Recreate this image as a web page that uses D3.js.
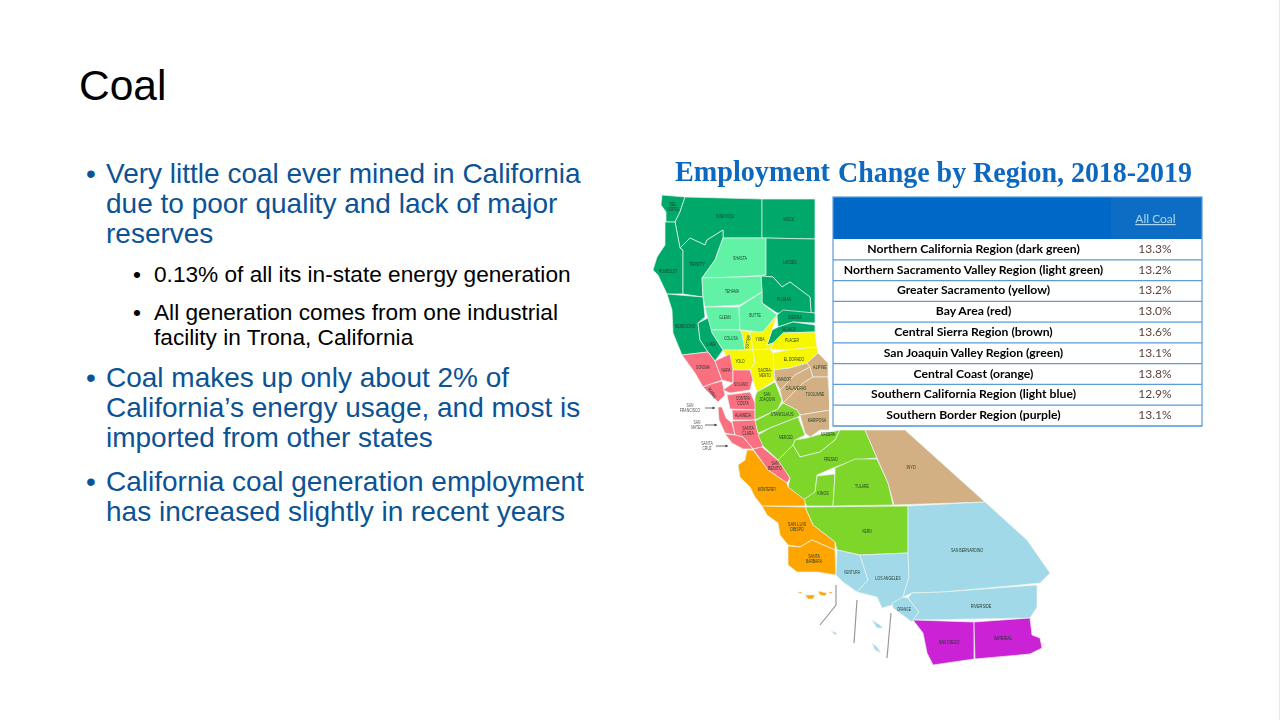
<!DOCTYPE html>
<html>
<head>
<meta charset="utf-8">
<script src="https://cdnjs.cloudflare.com/ajax/libs/d3/7.8.5/d3.min.js"></script>
<style>
html, body { margin: 0; padding: 0; background: #fff; overflow: hidden; }
svg { display: block; }
</style>
</head>
<body>
<script>
// table data
var regions = ["Northern California Region (dark green)", "Northern Sacramento Valley Region (light green)",
  "Greater Sacramento (yellow)", "Bay Area (red)", "Central Sierra Region (brown)", "San Joaquin Valley Region (green)",
  "Central Coast (orange)", "Southern California Region (light blue)", "Southern Border Region (purple)"];
var coalChange = [13.3, 13.2, 13.2, 13.0, 13.6, 13.1, 13.8, 12.9, 13.1];
var regionColors = ["#00a96b", "#62f2a6", "#f7f700", "#fb6f80", "#d2b084", "#7ed62b", "#ffa502", "#a2d9e8", "#cc20d6"];

// slide text
var titleText = "Coal";
var bigBullets = [
  ["Very little coal ever mined in California", "due to poor quality and lack of major", "reserves"],
  ["Coal makes up only about 2% of", "California\u2019s energy usage, and most is", "imported from other states"],
  ["California coal generation employment", "has increased slightly in recent years"]
];
var smallBullets = [
  ["0.13% of all its in-state energy generation"],
  ["All generation comes from one industrial", "facility in Trona, California"]
];

// county outlines: [name lines, region index, label point, outline, label angle]
var counties = [
  [["DEL", "NORTE"], 0, [673, 207], [[662,195],[685,197],[680,212],[675,222],[666,222],[666,212],[661,205]]],
  [["SISKIYOU"], 0, [725, 216], [[685,197],[762,199],[762,238],[723,238],[723,230],[715,235],[707,240],[705,245],[690,238],[680,248],[675,222],[680,212]]],
  [["MODOC"], 0, [789, 219], [[762,199],[815,199],[815,239],[762,238]]],
  [["HUMBOLDT"], 0, [668, 271], [[675,222],[680,248],[683,250],[683,294],[667,294],[658,275],[653,270],[657,257],[665,245],[665,222]]],
  [["TRINITY"], 0, [697, 264], [[680,248],[690,238],[705,245],[707,240],[715,235],[723,230],[723,238],[715,260],[702,278],[703,297],[683,294],[683,250]]],
  [["SHASTA"], 1, [740, 258], [[723,238],[766,238],[766,275],[740,277],[702,278],[715,260]]],
  [["LASSEN"], 0, [790, 262], [[766,238],[815,239],[815,313],[811,313],[810,297],[790,282],[782,287],[773,277],[761,276],[766,275]]],
  [["PLUMAS"], 0, [784, 299], [[761,276],[773,277],[782,287],[790,282],[810,297],[811,313],[777,313],[762,303],[762,292]]],
  [["TEHAMA"], 1, [732, 291], [[702,278],[740,277],[761,276],[762,292],[740,305],[705,307],[703,297]]],
  [["GLENN"], 1, [725, 317], [[705,307],[739,307],[740,330],[710,330]]],
  [["BUTTE"], 1, [755, 315], [[739,307],[762,292],[762,303],[777,315],[763,332],[740,330]]],
  [["COLUSA"], 1, [731, 338], [[710,330],[740,330],[742,333],[745,350],[723,350]]],
  [["MENDOCINO"], 0, [685, 326], [[667,294],[703,297],[705,317],[698,323],[700,340],[708,352],[682,355],[673,333],[672,310]]],
  [["LAKE"], 0, [711, 344], [[698,323],[708,318],[712,333],[723,350],[715,361],[708,352],[700,340]]],
  [["SIERRA"], 0, [795, 317], [[777,315],[783,310],[815,313],[815,323],[793,322],[778,327]]],
  [["NEVADA"], 0, [789, 329], [[767,345],[772,330],[778,327],[793,322],[815,325],[815,332],[783,333],[773,343]]],
  [["SUTTER"], 2, [748, 342], [[740,330],[750,332],[753,350],[745,350],[742,333]], -80],
  [["YUBA"], 2, [760, 339], [[750,332],[763,332],[777,315],[767,345],[773,343],[770,349],[753,350]]],
  [["PLACER"], 2, [792, 340], [[773,343],[783,333],[815,332],[817,347],[787,350],[770,349]]],
  [["YOLO"], 2, [740, 361], [[723,350],[753,350],[755,363],[750,370],[733,370]]],
  [["EL DORADO"], 2, [794, 359], [[773,363],[773,353],[787,350],[817,347],[818,353],[807,363],[790,368],[774,370]]],
  [["SACRA-", "MENTO"], 2, [765, 373], [[753,350],[770,349],[773,353],[774,370],[775,380],[757,392],[753,380],[750,370],[755,363]]],
  [["SONOMA"], 3, [703, 367], [[682,355],[708,352],[715,361],[722,380],[711,384],[703,387],[695,373]]],
  [["MARIN"], 3, [712, 393], [[703,387],[711,384],[722,381],[725,395],[718,402]], 60],
  [["NAPA"], 3, [726, 370], [[715,361],[730,354],[733,370],[733,383],[722,380]]],
  [["SOLANO"], 3, [741, 384], [[733,370],[750,370],[753,380],[752,382],[750,390],[730,393],[723,390],[733,383]]],
  [["CONTRA", "COSTA"], 3, [743, 401], [[727,395],[750,392],[757,407],[755,410],[730,409]]],
  [["ALAMEDA"], 3, [743, 415], [[732,410],[755,410],[755,420],[733,420]]],
  [[""], 3, [0, 0], [[718,407],[722,407],[726,418],[732,423],[735,435],[725,433],[719,420]]],
  [["SANTA", "CLARA"], 3, [748, 431], [[732,421],[755,420],[758,433],[767,440],[762,447],[753,449],[743,437],[735,435]]],
  [[""], 3, [0, 0], [[725,434],[735,435],[743,437],[753,449],[743,449],[732,443]]],
  [["SAN", "BENITO"], 3, [775, 466], [[753,449],[762,447],[780,462],[790,478],[787,483],[768,470]]],
  [["SAN", "JOAQUIN"], 5, [767, 397], [[757,392],[775,382],[782,400],[778,409],[755,420],[755,407],[755,397]]],
  [["AMADOR"], 4, [784, 379], [[774,370],[790,368],[807,363],[810,367],[795,375],[780,390],[775,380]]],
  [["CALAVERAS"], 4, [796, 388], [[780,390],[795,375],[810,367],[813,377],[803,383],[783,403]]],
  [["ALPINE"], 4, [820, 367], [[807,363],[818,353],[828,363],[828,377],[813,377],[810,367]]],
  [["TUOLUMNE"], 4, [815, 394], [[783,403],[803,383],[813,377],[828,377],[830,410],[800,415],[797,410]]],
  [["MARIPOSA"], 4, [817, 420], [[800,415],[830,410],[833,430],[820,430],[810,437],[805,433]]],
  [["STANISLAUS"], 5, [782, 414], [[755,421],[778,409],[783,403],[797,410],[800,415],[798,417],[770,428],[758,433]]],
  [["MERCED"], 5, [786, 437], [[758,435],[770,428],[798,417],[805,435],[795,440],[793,445],[778,460],[763,446]]],
  [["MADERA"], 5, [828, 434], [[793,445],[795,440],[807,438],[817,435],[840,430],[835,440],[820,452],[800,457]]],
  [["FRESNO"], 5, [831, 459], [[778,460],[793,445],[800,457],[820,452],[835,440],[840,430],[865,430],[877,458],[855,460],[833,468],[817,475],[815,493],[803,500],[788,487],[790,478]]],
  [["KINGS"], 5, [823, 493], [[817,476],[835,474],[833,506],[807,506],[803,500],[815,492]]],
  [["TULARE"], 5, [862, 486], [[835,468],[855,459],[877,459],[888,483],[893,505],[833,506],[835,475]]],
  [["KERN"], 5, [867, 531], [[805,507],[908,506],[908,553],[860,555],[837,550],[835,542],[813,525]]],
  [["INYO"], 4, [911, 467], [[865,430],[905,430],[985,502],[894,505],[888,483],[877,458]]],
  [["MONTEREY"], 6, [767, 489], [[747,450],[753,450],[768,470],[787,483],[788,487],[805,500],[805,506],[762,506],[755,497],[750,487],[740,477],[738,465],[745,460]]],
  [["SAN LUIS", "OBISPO"], 6, [797, 527], [[762,506],[805,507],[813,525],[835,542],[835,550],[812,540],[800,547],[788,545],[780,535],[778,523],[767,515]]],
  [["SANTA", "BARBARA"], 6, [814, 559], [[788,546],[800,547],[812,540],[835,550],[836,575],[817,572],[797,572],[788,565],[788,553]]],
  [["VENTURA"], 7, [852, 572], [[837,550],[860,555],[868,580],[857,592],[843,582],[836,575]]],
  [["LOS ANGELES"], 7, [888, 578], [[860,555],[908,553],[909,577],[903,597],[892,605],[882,608],[877,597],[857,592],[868,580]]],
  [["ORANGE"], 7, [904, 609], [[892,603],[903,597],[908,598],[919,612],[912,622],[893,608]]],
  [["SAN BERNARDINO"], 7, [967, 550], [[908,506],[985,502],[1027,540],[1050,573],[1040,583],[1010,586],[943,592],[912,593],[903,597],[909,577],[908,553]]],
  [["RIVERSIDE"], 7, [981, 606], [[912,593],[943,592],[1037,585],[1037,607],[1030,618],[913,620],[919,612],[908,598]]],
  [["SAN DIEGO"], 8, [949, 642], [[913,620],[974,622],[974,659],[933,665],[927,653],[923,633]]],
  [["IMPERIAL"], 8, [1003, 638], [[974,622],[1030,618],[1032,635],[1040,638],[1042,648],[1030,654],[975,659]]],
  [[""], 6, [0, 0], [[797,592],[802,592],[801,594]]],
  [[""], 6, [0, 0], [[805,595],[815,595],[813,599],[808,599]]],
  [[""], 6, [0, 0], [[818,591],[827,593],[825,596],[820,595]]],
  [[""], 6, [0, 0], [[828,592],[833,592],[831,594]]],
  [[""], 7, [0, 0], [[831,631],[837,633],[835,635]]],
  [[""], 7, [0, 0], [[872,620],[880,625],[883,628],[877,628]]],
  [[""], 7, [0, 0], [[872,643],[877,647],[881,653],[875,650]]]
];
var islandLeaders = [[[836,585],[836,605],[820,625]], [[857,600],[854,643]], [[891,613],[887,658]]];
var calloutNames = [["SAN", "FRANCISCO"], ["SAN", "MATEO"], ["SANTA", "CRUZ"]];
var calloutPoints = [[690, 408, 705, 714], [697, 425, 705, 716], [707, 446, 716, 727]];

var svg = d3.select("body").append("svg").attr("width", 1280).attr("height", 720);
var sans = "'Liberation Sans', Arial, sans-serif";

svg.append("rect").attr("x", 1279).attr("y", 0).attr("width", 1).attr("height", 720).attr("fill", "#fde9a8");

svg.append("text").attr("x", 79).attr("y", 100)
  .attr("font-family", sans).attr("font-size", 42.5).attr("fill", "#000").text(titleText);

// bullets
function bullets(items, ys, x, textX, size, color) {
  items.forEach(function (lines, i) {
    svg.append("text").attr("x", x).attr("y", ys[i][0])
      .attr("font-family", sans).attr("font-size", size).attr("fill", color).text("\u2022");
    lines.forEach(function (line, j) {
      svg.append("text").attr("x", textX).attr("y", ys[i][j])
        .attr("font-family", sans).attr("font-size", size).attr("fill", color).text(line);
    });
  });
}
bullets(bigBullets, [[183, 213, 243], [387, 417, 447], [491, 521]], 86, 106, 28, "#0b5394");
bullets(smallBullets, [[282], [320, 345]], 133, 154, 22.65, "#000");

// map
var defs = svg.append("defs");
defs.append("filter").attr("id", "soft").append("feGaussianBlur").attr("stdDeviation", 0.55);

var mapX = d3.scaleLinear().domain([650, 1060]).range([650, 1060]);
var mapY = d3.scaleLinear().domain([190, 670]).range([190, 670]);
var color = d3.scaleOrdinal().domain(d3.range(regions.length)).range(regionColors);
var outline = d3.line().x(function (d) { return mapX(d[0]); }).y(function (d) { return mapY(d[1]); });

var map = svg.append("g").attr("filter", "url(#soft)");

map.selectAll("path.county").data(counties).enter().append("path")
  .attr("class", "county")
  .attr("d", function (d) { return outline(d[3]) + "Z"; })
  .attr("fill", function (d) { return color(d[1]); })
  .attr("stroke", "#e8f4ee").attr("stroke-width", 0.7).attr("stroke-linejoin", "round");

map.selectAll("path.leader").data(islandLeaders).enter().append("path")
  .attr("class", "leader").attr("d", outline)
  .attr("fill", "none").attr("stroke", "#999").attr("stroke-width", 1.2);

function smallLabel(g, lines, x, y, fill, angle) {
  lines.forEach(function (line, i) {
    g.append("text").attr("x", x).attr("y", y + (i - (lines.length - 1) / 2) * 5 + 1.6)
      .attr("text-anchor", "middle").attr("font-family", sans)
      .attr("font-size", 5).attr("fill", fill)
      .attr("textLength", line.length * 2.3).attr("lengthAdjust", "spacingAndGlyphs")
      .attr("transform", angle ? "rotate(" + angle + " " + x + " " + y + ")" : null)
      .text(line);
  });
}
counties.forEach(function (d) {
  if (d[0][0]) smallLabel(map, d[0], mapX(d[2][0]), mapY(d[2][1]), "#1d3a2c", d[4]);
});
calloutNames.forEach(function (lines, i) {
  var p = calloutPoints[i];
  smallLabel(map, lines, mapX(p[0]), mapY(p[1]), "#555");
  map.append("line").attr("x1", mapX(p[2])).attr("x2", mapX(p[3])).attr("y1", mapY(p[1])).attr("y2", mapY(p[1]))
    .attr("stroke", "#333").attr("stroke-width", 0.7);
  map.append("path").attr("d", outline([[p[3] + 1.5, p[1]], [p[3] - 1.5, p[1] - 1.2], [p[3] - 1.5, p[1] + 1.2]]) + "Z").attr("fill", "#333");
});

// heading above the table
var head = svg.append("g").attr("filter", "url(#soft)")
  .attr("font-family", "'Liberation Serif', 'Times New Roman', serif").attr("font-weight", "bold").attr("fill", "#0a69c0");
head.append("text").attr("x", 675).attr("y", 181).attr("font-size", 29).attr("textLength", 155).attr("lengthAdjust", "spacingAndGlyphs").text("Employment");
head.append("text").attr("x", 838).attr("y", 182).attr("font-size", 29).attr("textLength", 354).attr("lengthAdjust", "spacingAndGlyphs").text("Change by Region, 2018-2019");

// table
var rowY = d3.scaleBand().domain(d3.range(regions.length)).range([239, 426]);
var tableX = 833, colX = 1111, tableR = 1202;
var fmt = d3.format(".1f");
var table = svg.append("g").attr("filter", "url(#soft)");

table.append("rect").attr("x", tableX - 4).attr("y", 193).attr("width", tableR - tableX + 8).attr("height", 237).attr("fill", "#fff");
table.append("rect").attr("x", tableX).attr("y", 197).attr("width", colX - tableX).attr("height", 42).attr("fill", "#0367c6");
table.append("rect").attr("x", colX).attr("y", 197).attr("width", tableR - colX).attr("height", 42).attr("fill", "#116dc4");
table.append("text").attr("x", 1155.5).attr("y", 223).attr("text-anchor", "middle")
  .attr("font-family", "Lato, sans-serif").attr("font-size", 12).attr("fill", "#a9d6f0")
  .attr("text-decoration", "underline").text("All Coal");

var rows = table.selectAll("g.row").data(regions).enter().append("g").attr("class", "row")
  .attr("transform", function (d, i) { return "translate(0," + rowY(i) + ")"; });
rows.append("text").attr("x", (tableX + colX) / 2 + 1.5).attr("y", rowY.bandwidth() / 2 + 3.5)
  .attr("text-anchor", "middle").attr("font-family", "Lato, sans-serif").attr("font-weight", "bold")
  .attr("font-size", 12.2).attr("fill", "#000").text(function (d) { return d; });
rows.append("text").attr("x", 1155).attr("y", rowY.bandwidth() / 2 + 3.5)
  .attr("text-anchor", "middle").attr("font-family", "Lato, sans-serif")
  .attr("font-size", 12).attr("fill", "#5a3f38").text(function (d, i) { return fmt(coalChange[i]) + "%"; });
rows.append("line").attr("x1", tableX).attr("x2", tableR).attr("y1", rowY.bandwidth()).attr("y2", rowY.bandwidth())
  .attr("stroke", "#5b9bd5").attr("stroke-width", 1.2);
table.append("rect").attr("x", tableX).attr("y", 197).attr("width", tableR - tableX).attr("height", 229)
  .attr("fill", "none").attr("stroke", "#5b9bd5").attr("stroke-width", 1.2);
</script>
</body>
</html>
